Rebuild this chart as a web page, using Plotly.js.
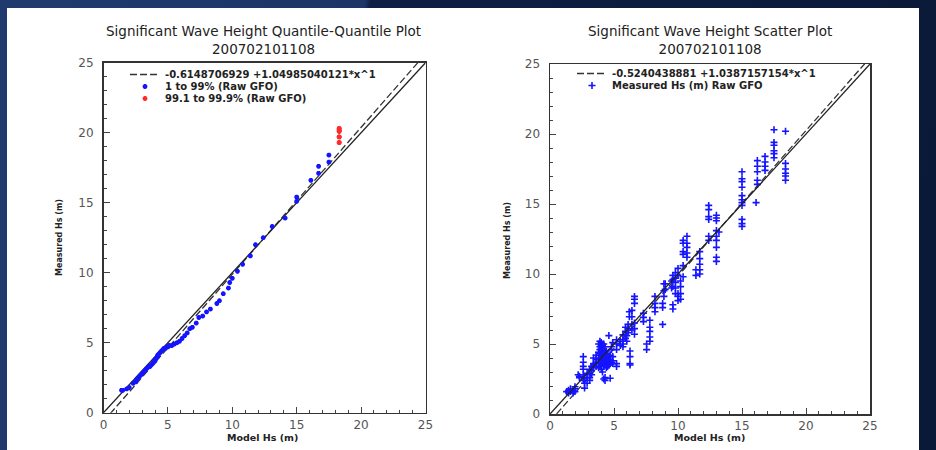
<!DOCTYPE html>
<html><head><meta charset="utf-8">
<script src="https://cdn.plot.ly/plotly-3.0.1.min.js"></script>
<style>
html,body{margin:0;padding:0;width:936px;height:450px;overflow:hidden;
  background:linear-gradient(100deg,#1f3b6e 0%,#1b3566 36%,#0e1f45 36.5%,#0a1937 100%);}
#panel{position:absolute;left:7px;top:8px;width:912px;height:442px;background:#fff;}
#chart{position:absolute;left:0;top:0;width:936px;height:450px;}
</style></head><body>
<div id="panel"></div><div id="chart"></div>
<script>
// ---------- Quantile-Quantile plot data ----------
const qqFitIntercept = -0.6148706929;
const qqFitSlope = 1.04985040121;
const qqFitLabel = '-0.6148706929 +1.04985040121*x^1';
const qqModel = [1.4,1.5,1.8,2.0,2.3,2.5,2.6,2.7,2.8,2.9,3.0,3.1,3.2,3.3,3.4,3.5,3.6,3.7,3.8,3.9,
  4.0,4.0,4.1,4.2,4.2,4.3,4.4,4.5,4.6,4.7,4.8,4.9,5.0,5.1,5.3,5.5,5.7,5.9,6.1,6.3,
  6.5,6.7,6.9,7.2,7.4,7.7,8.0,8.3,8.8,9.0,9.3,9.7,9.8,10.0,10.4,10.8,11.4,11.8,12.4,13.1,
  14.1,15.0,15.0,16.1,16.7,16.7,17.5,17.5];
const qqMeasured = [1.6,1.6,1.7,1.8,2.1,2.2,2.4,2.5,2.6,2.7,2.8,2.9,3.0,3.1,3.2,3.3,3.3,3.4,3.5,3.6,
  3.7,3.8,3.9,4.0,4.1,4.2,4.3,4.4,4.5,4.6,4.6,4.7,4.7,4.8,4.8,4.9,5.0,5.1,5.3,5.5,
  5.7,6.0,6.1,6.4,6.8,6.9,7.2,7.4,7.8,8.0,8.5,8.9,9.3,9.6,10.1,10.6,11.2,12.0,12.5,13.3,
  13.9,15.1,15.4,16.6,17.1,17.6,17.9,18.4];
const qqTopModel = [18.3,18.3,18.3,18.3,18.3,18.3,18.3,18.3,18.3];
const qqTopMeasured = [19.3,19.3,19.7,19.7,20.1,20.1,20.2,20.3,20.3];

// ---------- Scatter plot data ----------
const scFitIntercept = -0.5240438881;
const scFitSlope = 1.0387157154;
const scFitLabel = '-0.5240438881 +1.0387157154*x^1';
const scModel = [
  1.3, 1.45,1.45,1.45, 1.6,1.6, 1.8,1.8, 1.95,1.95,1.95, 2.2, 2.3,2.3,
  2.6,2.6,2.6,2.6,2.6,2.6, 2.7,2.7,2.7, 2.9,2.9,2.9, 3.1,3.1,3.1,3.1, 3.25,3.25,3.25,
  3.4,3.4,3.4,3.4, 3.6,3.6,3.6,3.6, 3.8,3.8,3.8,3.8,3.8, 3.9,3.9,3.9,3.9,3.9,3.9,
  4.0,4.0,4.0,4.0,4.0,4.0,4.0,4.0, 4.1,4.1,4.1,4.1,4.1,4.1, 4.2,4.2,4.2,4.2,4.2,4.2,4.2,
  4.3,4.3,4.3,4.3,4.3,4.3,4.3, 4.4,4.4,4.4,4.4,4.4, 4.5,4.5,4.5,4.5, 4.6,4.6,4.6,4.6,
  4.7,4.7,4.7,4.7, 4.8,4.8,4.8, 4.9,4.9,4.9,4.9, 5.2,5.2,5.2,5.2,5.2, 5.5,5.5,
  5.7,5.7,5.7,5.7, 5.9,5.9,5.9, 6.0,6.0, 6.1,6.1,6.1, 6.2,6.2, 6.25,6.25,6.25,6.25,
  6.4,6.4,6.4,6.4, 6.6,6.6,6.6,6.6,6.6,6.6, 7.3,7.3,7.3, 7.55,7.55, 7.8,7.8,7.8,7.8,7.8,
  8.2,8.2,8.2,8.2, 8.8,8.8,8.8, 8.9,8.9,8.9, 9.0,9.0, 9.5,9.5, 9.6,9.6,9.6,9.6,9.6,
  9.8,9.8,9.8,9.8,9.8, 10.0,10.0,10.0,10.0,10.0, 10.2,10.2,10.2,10.2,
  10.4,10.4,10.4,10.4,10.4,10.4, 10.7,10.7,10.7,10.7,10.7, 11.4,11.4, 11.7,11.7,11.7,11.7,11.7,
  12.4,12.4,12.4,12.4,12.4,12.4, 13.0,13.0,13.0,13.0,13.0,13.0,13.0,13.0,13.0, 13.2,
  15.0,15.0,15.0,15.0,15.0,15.0,15.0,15.0,15.0,15.0,15.0, 16.1, 16.2,16.2,16.2,16.2,16.2,
  16.8,16.8,16.8,16.8, 17.5,17.5,17.5,17.5,17.5,17.5, 18.4,18.4,18.4,18.4,18.4,18.4];
const scMeasured = [
  1.6, 1.7,1.5,1.6, 1.8,1.6, 1.7,1.5, 1.95,1.8,1.6, 2.8, 2.7,2.6,
  4.1,3.7,3.4,3.2,2.8,2.4, 2.55,2.2,1.85, 2.9,2.6,2.2, 3.2,2.9,2.6,2.4, 3.4,3.1,2.8,
  4.0,3.6,3.5,3.3, 4.2,3.9,3.7,3.4, 5.0,4.4,4.0,3.6,3.3, 5.2,4.8,4.6,4.3,3.9,3.4,
  5.1,4.9,4.7,4.4,4.1,3.8,3.5,3.2, 4.9,4.5,4.2,3.9,3.6,3.0, 5.0,4.6,4.3,4.0,3.7,3.4,2.5,
  4.8,4.4,4.1,3.8,3.5,2.6,2.4, 4.5,4.2,3.9,3.6,3.3, 4.3,4.0,3.7,3.4, 5.6,4.1,3.8,3.5,
  4.2,3.9,3.6,2.55, 4.8,4.6,3.7, 5.1,4.1,3.8,3.6, 5.3,5.0,4.6,3.6,3.4, 5.2,4.9,
  5.65,5.3,5.0,4.8, 6.2,5.9,5.4, 5.6,5.2, 6.4,6.1,5.8, 7.3,6.95, 4.5,4.1,3.6,3.5,
  7.4,6.95,6.4,6.0, 8.4,8.2,7.9,6.5,6.1,5.7, 7.2,6.9,6.6, 5.0,4.6, 6.7,6.2,5.9,5.5,5.2,
  8.4,7.9,7.6,7.3, 7.9,7.6,6.4, 9.3,8.8,8.4, 9.3,8.9, 9.5,9.0, 9.9,9.6,9.1,7.8,7.5,
  10.1,9.7,9.4,9.0,8.6, 10.4,9.9,8.6,8.4,8.1, 9.5,9.1,8.6,8.2,
  12.4,12.2,11.6,11.4,10.6,9.8, 12.7,12.2,11.9,11.5,11.2, 10.3,9.9, 11.6,11.1,10.7,10.3,10.0,
  14.9,14.6,14.1,13.9,12.7,12.4, 14.2,14.0,13.8,13.1,12.7,12.4,11.9,11.2,10.9, 13.0,
  17.3,16.8,16.6,16.2,15.6,15.3,15.1,14.9,13.9,13.6,13.4, 15.1, 18.1,17.7,17.3,16.7,16.4,
  18.4,18.0,17.7,17.4, 20.3,19.4,19.2,18.8,18.6,18.3, 20.2,17.9,17.5,17.2,17.0,16.7];

// reference 1:1 line and fit-line end points (model Hs)
const lineX = [0, 25];

// ---------- styling ----------
const FONT = 'DejaVu Sans, Liberation Sans, sans-serif';
const BLUE = '#1414ff';
const RED = '#ff2a2a';

function axis(extra) {
  return Object.assign({
    range: [0, 25], dtick: 5, tick0: 0, ticks: 'inside', ticklen: 6, tickwidth: 1, tickcolor: '#444',
    showline: true, linecolor: '#333', linewidth: 1.5, mirror: true,
    showgrid: false, zeroline: false, fixedrange: true,
    tickfont: {family: FONT, size: 12, color: '#555'},
    minor: {ticks: 'inside', ticklen: 3, dtick: 1, tickcolor: '#444', tickwidth: 1, showgrid: false}
  }, extra);
}

const traces = [
  // left: quantile-quantile
  {x: lineX, y: lineX.map(v => qqFitIntercept + qqFitSlope * v), xaxis: 'x', yaxis: 'y',
   mode: 'lines', name: qqFitLabel, legend: 'legend',
   line: {color: '#333', width: 1.3, dash: '7px,3px'}},
  {x: lineX, y: lineX, xaxis: 'x', yaxis: 'y', mode: 'lines', showlegend: false,
   line: {color: '#222', width: 1.3}},
  {x: qqModel, y: qqMeasured, xaxis: 'x', yaxis: 'y', mode: 'markers', name: '1 to 99% (Raw GFO)',
   legend: 'legend', marker: {symbol: 'asterisk-open', size: 4, color: BLUE, line: {color: BLUE, width: 1.6}}},
  {x: qqTopModel, y: qqTopMeasured, xaxis: 'x', yaxis: 'y', mode: 'markers', name: '99.1 to 99.9% (Raw GFO)',
   legend: 'legend', marker: {symbol: 'asterisk-open', size: 4, color: RED, line: {color: RED, width: 1.6}}},
  // right: scatter
  {x: lineX, y: lineX.map(v => scFitIntercept + scFitSlope * v), xaxis: 'x2', yaxis: 'y2',
   mode: 'lines', name: scFitLabel, legend: 'legend2',
   line: {color: '#333', width: 1.3, dash: '7px,3px'}},
  {x: scModel, y: scMeasured, xaxis: 'x2', yaxis: 'y2', mode: 'markers', name: 'Measured Hs (m) Raw GFO',
   legend: 'legend2', marker: {symbol: 'cross-thin-open', size: 5, color: BLUE, line: {color: BLUE, width: 1.6}}},
  {x: lineX, y: lineX, xaxis: 'x2', yaxis: 'y2', mode: 'lines', showlegend: false,
   line: {color: '#222', width: 1.3}}
];

const W = 936, H = 450;
const px = v => v / W, py = v => (H - v) / H;
const legendCommon = {xanchor: 'left', yanchor: 'top', bgcolor: 'rgba(0,0,0,0)', borderwidth: 0,
  itemwidth: 30, tracegroupgap: 0, font: {family: FONT, size: 10, color: '#222', weight: 'bold'}};

function ann(text, x, y, size, extra) {
  return Object.assign({text: text, x: px(x), y: py(y), xref: 'paper', yref: 'paper',
    xanchor: 'center', yanchor: 'middle', showarrow: false,
    font: {family: FONT, size: size, color: '#222'}}, extra || {});
}

const layout = {
  width: W, height: H, margin: {l: 0, r: 0, t: 0, b: 0},
  paper_bgcolor: 'rgba(0,0,0,0)', plot_bgcolor: '#fff',
  xaxis: axis({domain: [px(103.5), px(425.5)], anchor: 'y'}),
  yaxis: axis({domain: [py(412.7), py(62.7)], anchor: 'x', ticklabelstandoff: 6}),
  xaxis2: axis({domain: [px(550), px(870)], anchor: 'y2'}),
  yaxis2: axis({domain: [py(414), py(64)], anchor: 'x2', ticklabelstandoff: 6}),
  legend: Object.assign({x: px(125), y: py(60)}, legendCommon),
  legend2: Object.assign({x: px(572), y: py(59)}, legendCommon),
  showlegend: true,
  annotations: [
    ann('Significant Wave Height Quantile-Quantile Plot<br>200702101108', 263, 40, 13.5),
    ann('Significant Wave Height Scatter Plot<br>200702101108', 710, 40, 13.5),
    ann('Model Hs (m)', 262, 437, 9.5, {font: {family: FONT, size: 9.5, color: '#222', weight: 'bold'}}),
    ann('Model Hs (m)', 709, 437, 9.5, {font: {family: FONT, size: 9.5, color: '#222', weight: 'bold'}}),
    ann('Measured Hs (m)', 60, 237, 8, {textangle: -90, font: {family: FONT, size: 8, color: '#222', weight: 'bold'}}),
    ann('Measured Hs (m)', 507, 240, 8, {textangle: -90, font: {family: FONT, size: 8, color: '#222', weight: 'bold'}})
  ]
};

// tighten legend row spacing to the compact spacing of the original figure
function compactLegends() {
  ['legend', 'legend2'].forEach(function (cls) {
    const items = document.querySelectorAll('g.' + cls + ' g.traces');
    let y0 = null;
    items.forEach(function (el) {
      const t = el.getAttribute('transform') || '';
      const m = t.match(/translate\(\s*([-\d.]+)[ ,]+([-\d.]+)\s*\)/);
      if (!m) return;
      const x = parseFloat(m[1]), y = parseFloat(m[2]);
      if (y0 === null) y0 = y;
      el.setAttribute('transform', 'translate(' + x + ',' + (y0 + (y - y0) * 12 / 19) + ')');
    });
  });
}

Plotly.newPlot('chart', traces, layout, {staticPlot: true, displayModeBar: false}).then(compactLegends);
</script>
</body></html>
